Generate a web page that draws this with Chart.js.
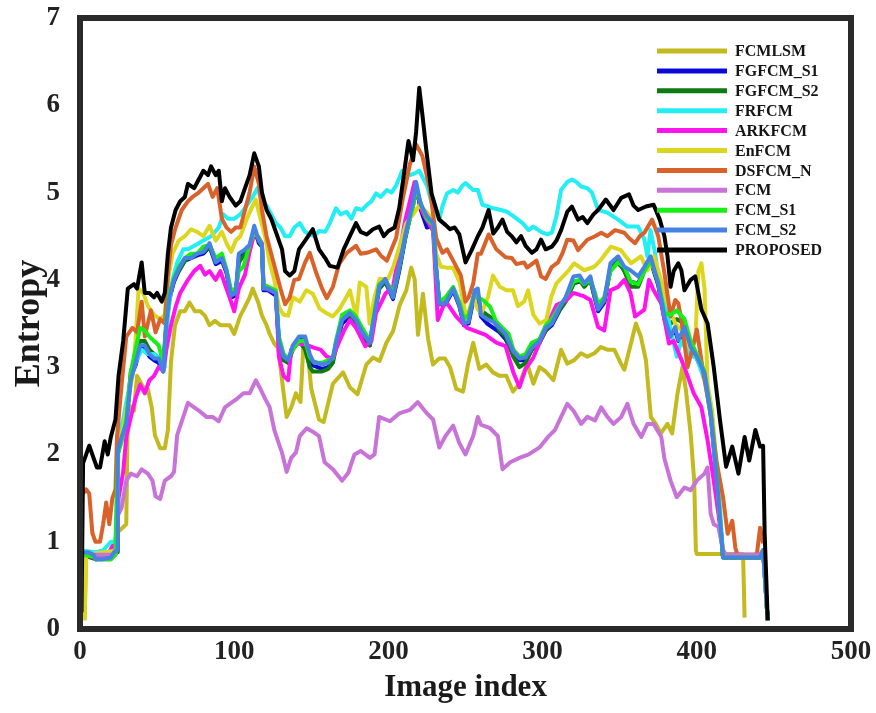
<!DOCTYPE html>
<html>
<head>
<meta charset="utf-8">
<script src="https://cdn.jsdelivr.net/npm/chart.js@4/dist/chart.umd.min.js"></script>
<style>
  html, body { margin: 0; padding: 0; background: #fff; }
  #wrap { width: 876px; height: 713px; position: relative; }
</style>
</head>
<body>
<div id="wrap"><canvas id="c"></canvas></div>
<script>
// Entropy per image index for each segmentation method: [index, entropy]
const FCMLSM = [[3,0.1],[4,0.85],[10,0.85],[20,0.85],[24,1.1],[27,1.15],[30,1.2],[31,2.5],[33,2.55],[35,2.5],[37,2.9],[41,2.77],[44,2.75],[46.5,2.54],[48.6,2.22],[52,2.07],[55,2.07],[57,2.28],[59,3.06],[61.6,3.48],[65,3.64],[68,3.64],[71,3.74],[74.5,3.64],[78,3.64],[81,3.59],[84,3.48],[87.5,3.53],[91,3.48],[94,3.48],[97,3.48],[100,3.38],[104,3.59],[107,3.69],[110,3.8],[112,3.9],[115.6,3.74],[118,3.59],[121,3.48],[123,3.38],[126,3.27],[128.5,3.22],[131.7,2.75],[134,2.43],[137,2.54],[140,2.7],[143,2.6],[145,3.3],[147.5,3.2],[150,2.75],[155,2.4],[158,2.37],[164,2.81],[170.6,2.94],[175,2.77],[180,2.69],[185.7,3.03],[190,3.11],[194.3,3.07],[198.7,3.28],[203,3.41],[207.3,3.71],[211.6,3.88],[214.8,4.14],[217,4.01],[219.2,3.37],[222.4,3.84],[225.7,3.33],[228.9,3.03],[233,3.1],[236.7,3.1],[240,3.0],[244,2.75],[248.4,2.72],[251.6,3.03],[255,3.28],[259,2.98],[263.5,3.03],[267.8,2.94],[272,2.9],[276.5,2.9],[280.8,2.72],[285,2.81],[290,3.04],[294,2.81],[298,3.0],[302,2.95],[307,2.85],[312,3.2],[316,3.04],[320.5,3.08],[325,3.16],[329,3.12],[333.6,3.16],[337.8,3.23],[342,3.2],[346.5,3.2],[350.8,3.04],[353,2.97],[357.3,3.27],[360.5,3.5],[363.7,3.35],[367,3.08],[370.2,2.43],[373.4,2.35],[376.7,2.24],[381,2.35],[384,2.24],[387.5,2.7],[390.7,3.0],[392.9,2.74],[396,2.24],[398.3,1.7],[399.4,0.9],[400,0.86],[430,0.86],[431,0.13]];

const FGFCM_S1 = [[0,0.2],[1,0.87],[9,0.85],[10,0.8],[20,0.82],[24,0.9],[24.5,2.02],[27,2.18],[30,2.38],[33,2.9],[36,3.02],[39,3.22],[42,3.22],[45,3.12],[48,3.08],[51,3.05],[54,2.95],[56,3.48],[58,3.78],[61,3.98],[64,4.1],[68,4.22],[72,4.25],[76,4.28],[80,4.3],[84,4.38],[88,4.18],[92,4.22],[95,4.08],[98,3.8],[101,3.82],[103,4.25],[107,4.32],[110,4.38],[113,4.58],[116,4.42],[118,4.38],[119,3.88],[122,3.88],[127,3.82],[129,3.28],[132,3.1],[135,3.05],[138,3.22],[142,3.32],[146,3.3],[149,3.08],[151,3.02],[157,2.98],[161,3.0],[164,3.08],[166,3.25],[170,3.5],[175,3.58],[179,3.5],[183,3.35],[188,3.25],[190,3.48],[194,3.9],[198,3.98],[203,3.78],[207,4.1],[211,4.48],[216,4.88],[218,5.08],[221,4.8],[225,4.6],[229,4.62],[231,4.12],[233,3.72],[237,3.72],[242,3.88],[246,3.7],[249,3.48],[252,3.5],[256,3.85],[258,3.85],[260,3.58],[264,3.5],[268,3.45],[272,3.4],[276,3.32],[281,3.15],[285,3.08],[289,3.08],[293,3.2],[298,3.28],[302,3.42],[306,3.48],[311,3.65],[315,3.78],[320,3.96],[324,3.98],[327,3.96],[331,4.0],[334,3.78],[336,3.64],[340,3.74],[344,4.15],[349,4.19],[353,4.12],[357,3.98],[362,3.96],[366,4.12],[370,4.22],[375,3.94],[379,3.55],[383,3.35],[386,3.42],[388,3.3],[392,3.42],[396,3.2],[400,3.1],[405,2.9],[409,2.45],[412,1.88],[414,1.5],[417,0.82],[441,0.82],[443,0.9],[446,0.1]];

const FGFCM_S2 = [[0,0.2],[1,0.85],[10,0.8],[20,0.8],[24,0.88],[24.5,2.0],[27,2.2],[30,2.4],[33,2.95],[36,3.1],[39,3.3],[42,3.3],[45,3.2],[48,3.15],[51,3.1],[54,3.0],[56,3.5],[58,3.8],[61,4.0],[64,4.1],[68,4.22],[72,4.28],[76,4.3],[80,4.32],[84,4.38],[88,4.22],[92,4.25],[95,4.1],[98,3.85],[101,3.85],[103,4.2],[107,4.3],[110,4.38],[113,4.55],[116,4.45],[118,4.38],[119,3.9],[122,3.9],[127,3.85],[129,3.28],[132,3.08],[135,3.05],[138,3.2],[142,3.3],[146,3.2],[149,3.0],[151,2.95],[157,2.95],[161,2.98],[164,3.05],[166,3.22],[170,3.55],[175,3.6],[179,3.52],[183,3.38],[188,3.25],[190,3.5],[194,3.9],[198,3.98],[203,3.8],[207,4.12],[211,4.5],[216,4.85],[218,5.05],[221,4.82],[225,4.68],[229,4.6],[231,4.1],[233,3.72],[237,3.75],[242,3.9],[246,3.72],[249,3.5],[252,3.55],[256,3.85],[258,3.82],[260,3.65],[264,3.6],[268,3.55],[272,3.42],[276,3.35],[281,3.12],[285,3.0],[289,3.05],[293,3.2],[298,3.28],[302,3.42],[306,3.5],[311,3.65],[315,3.75],[320,3.95],[324,4.0],[327,3.92],[331,4.0],[334,3.78],[336,3.68],[340,3.75],[344,4.12],[349,4.22],[353,4.1],[357,3.92],[362,3.92],[366,4.1],[370,4.22],[375,3.95],[379,3.6],[383,3.5],[387,3.55],[392,3.5],[396,3.25],[400,3.12],[405,2.92],[409,2.48],[412,1.92],[414,1.5],[417,0.82],[441,0.82],[443,0.9],[446,0.1]];

const FRFCM = [[0,0.2],[1,0.9],[10,0.88],[15,0.9],[20,1.0],[23,1.0],[25,2.2],[28,2.4],[30,2.6],[33,2.85],[36,3.05],[40,3.2],[44,3.15],[48,3.15],[52,3.1],[55,3.0],[57,3.6],[60,4.0],[63,4.2],[67,4.35],[70,4.35],[75,4.4],[80,4.45],[85,4.5],[90,4.6],[93,4.75],[96,4.7],[100,4.7],[104,4.75],[108,4.85],[112,4.95],[115,5.05],[118,4.9],[121,4.85],[124,4.75],[127,4.65],[130,4.6],[133,4.5],[136,4.5],[139,4.6],[142.5,4.65],[146,4.55],[149,4.52],[152,4.5],[155,4.56],[159,4.55],[162,4.65],[166,4.82],[169,4.75],[173,4.78],[176,4.7],[179,4.82],[183,4.8],[186,4.86],[189,4.9],[192,4.99],[195,4.95],[199,5.03],[202,5.0],[205,5.08],[209,5.25],[214,5.2],[217,5.22],[220,5.25],[225,5.08],[229,4.82],[233,4.69],[235,4.84],[238,4.99],[242,5.03],[245,5.0],[248,5.08],[250,5.11],[255,5.03],[258,5.03],[261,4.86],[265,4.84],[268,4.82],[273,4.8],[277,4.78],[281,4.73],[287,4.65],[291,4.57],[294,4.61],[299,4.55],[303,4.52],[306,4.54],[309,4.73],[312,5.03],[316,5.12],[319,5.15],[322,5.12],[325,5.07],[329,5.05],[332,5.0],[336,4.8],[342,4.77],[349,4.69],[355,4.61],[362,4.61],[366,4.46],[368,4.27],[370,4.57],[373,4.3],[376,3.9],[380,3.7],[383,3.43],[387,3.12],[390,3.3],[395,3.15],[400,3.1],[405,2.85],[409,2.45],[412,1.9],[415,1.4],[417,0.85],[441,0.85],[443,0.9]];

const ARKFCM = [[0,0.2],[1,0.85],[10,0.82],[18,0.85],[21,0.95],[24,0.95],[25,1.5],[28,1.8],[30,2.2],[33,2.43],[36,2.64],[39,2.8],[42,2.7],[45,2.85],[48,2.9],[51,3.0],[54,2.96],[56,3.2],[59,3.48],[62,3.69],[65,3.85],[70,4.0],[74,4.1],[78,4.16],[81,4.06],[84,4.1],[88,4.0],[91,4.1],[94,3.95],[97,3.8],[100,3.64],[103,3.9],[107,4.06],[110,4.32],[113,4.53],[116,4.48],[118,4.42],[119,3.95],[121,3.9],[127,3.85],[129,3.12],[132,2.9],[135,2.85],[137,3.2],[141,3.27],[146,3.26],[152,3.22],[156,3.2],[160,3.12],[164,3.1],[167,3.25],[171,3.41],[175,3.54],[179,3.45],[185,3.24],[189,3.3],[192,3.62],[198,3.84],[203,3.92],[207,4.31],[211,4.69],[217,5.12],[222,4.78],[229,4.56],[232,3.54],[237,3.76],[244,3.58],[251,3.45],[257,3.41],[263,3.37],[270,3.28],[276,3.24],[281,2.94],[285,2.77],[289,2.98],[294,3.11],[298,3.28],[302,3.45],[309,3.71],[315,3.76],[320,3.85],[327,3.81],[331,3.77],[336,3.46],[340,3.42],[344,3.88],[349,3.92],[353,4.0],[357,3.85],[360,3.58],[366,3.66],[369,4.0],[372,3.88],[377,3.73],[382,3.27],[385,3.3],[392,3.0],[398,2.7],[403,2.54],[407,2.16],[411,1.7],[414,1.32],[417,0.9],[419,0.85],[441,0.85],[443,0.9],[446,0.1]];

const EnFCM = [[3,0.1],[4,0.85],[24,0.9],[25,2.15],[28,2.3],[31,2.6],[34,2.9],[36,3.3],[38,3.9],[41,3.85],[44,3.7],[48,3.6],[52,3.55],[55,3.6],[57,4.0],[60,4.3],[64,4.45],[68,4.5],[72,4.58],[76,4.55],[80,4.5],[84,4.62],[88,4.45],[92,4.55],[95,4.42],[98,4.32],[101,4.45],[104,4.5],[108,4.69],[112,4.85],[114,4.92],[117,4.7],[120,4.5],[123,4.2],[126,4.0],[129,3.69],[132,3.6],[135,3.59],[138,3.8],[142.5,3.75],[146.8,3.88],[151,3.84],[155.4,3.67],[159.7,3.62],[164,3.58],[168.4,3.67],[172.7,3.8],[175,3.88],[179.2,3.58],[181.4,3.97],[185.7,3.92],[187.8,3.5],[191,3.8],[194.3,4.01],[199.7,4.01],[203,4.14],[207.3,4.39],[211.6,4.65],[216,4.75],[220,4.85],[224.6,4.78],[228.9,4.69],[231,4.3],[234,4.15],[237.6,4.14],[241.9,4.14],[246.2,3.97],[250.6,3.55],[254.9,3.8],[258,3.66],[260.3,3.62],[264.6,3.8],[267.8,4.05],[272.2,3.92],[276.5,3.88],[280.8,3.88],[284,3.7],[288,3.75],[290.6,3.88],[294,3.6],[298.1,3.5],[302.4,3.54],[305.7,3.81],[309,3.96],[313.3,4.04],[317,4.11],[320.5,4.19],[327,4.11],[333.6,4.15],[337.8,4.23],[344.3,4.38],[350.8,4.34],[357.3,4.19],[363.7,4.27],[368,4.11],[372.3,4.27],[376.7,4.0],[381,3.73],[386,3.5],[391,3.4],[396,3.2],[399,3.3],[401,4.1],[403,4.19],[405,3.9],[407,2.8],[410,2.5],[413,1.8],[416,1.0],[418,0.85],[441,0.85],[443,0.9],[446,0.1]];

const DSFCM_N = [[2,1.55],[4,1.6],[6,1.55],[8,1.1],[10,1.0],[13,1.0],[15,1.2],[17,1.45],[19,1.2],[21,1.5],[23,1.6],[24,2.2],[27,2.8],[30,3.35],[34,3.45],[37,3.4],[40,3.75],[42,3.35],[46,3.65],[49,3.4],[52,3.55],[55,3.5],[57,4.05],[59,4.4],[62,4.6],[66,4.8],[70,4.9],[73,4.95],[77,5.0],[80,5.05],[83,5.1],[86,4.95],[89,5.05],[92,4.7],[95,4.6],[98,4.55],[101,4.6],[104,4.6],[107,4.8],[110,5.0],[113,5.3],[116,5.1],[118,4.8],[121,4.5],[124,4.3],[127,4.1],[130,3.9],[133,3.72],[136,3.8],[139,4.0],[142,4.01],[146,4.2],[149,4.31],[153,4.09],[157,3.9],[160,3.79],[164,3.92],[168,4.18],[173,4.31],[179,4.39],[182,4.3],[186,4.31],[192,4.35],[195,4.28],[199,4.22],[202,4.35],[205,4.48],[209,4.9],[214,5.33],[218,5.55],[222,5.42],[227,5.03],[231,4.48],[235,4.31],[238,4.35],[242,4.22],[247,4.05],[250,3.75],[252,3.8],[255,3.96],[258,4.3],[260,4.3],[265,4.52],[270,4.35],[276,4.26],[280,4.25],[283,4.18],[288,4.2],[290,4.14],[296,4.22],[299,4.04],[302,4.01],[306,4.15],[310,4.2],[313,4.31],[316,4.46],[320,4.45],[323,4.34],[329,4.46],[334,4.5],[338,4.54],[342,4.5],[347,4.57],[353,4.54],[356,4.48],[360,4.42],[363,4.5],[366,4.54],[371,4.69],[375,4.5],[379,4.08],[383,3.58],[386,3.77],[388,3.73],[390,3.54],[394,3.0],[397,3.2],[400,3.43],[404,2.96],[409,2.47],[413,1.9],[417,1.51],[420,1.09],[423,1.24],[425,0.93],[427,0.82],[433,0.82],[439,0.86],[441,1.16],[443,0.98]];

const FCM = [[0,0.15],[1,0.85],[23,0.85],[24,1.28],[27,1.39],[30,1.7],[33,1.78],[37,1.75],[40,1.83],[44,1.78],[47,1.7],[49,1.52],[52,1.49],[55,1.7],[59,1.75],[61,1.8],[63,2.22],[66,2.38],[70,2.59],[74,2.54],[78,2.49],[82,2.43],[86,2.43],[90,2.38],[94,2.54],[98,2.59],[102,2.64],[106,2.7],[110,2.7],[114,2.85],[117,2.75],[120,2.64],[123,2.54],[126,2.28],[129,2.12],[131,2.02],[134,1.8],[137,1.96],[140,2.02],[142.5,2.21],[147,2.3],[151,2.26],[155,2.21],[158.6,1.91],[164,1.83],[170,1.7],[174,1.79],[178,2.0],[182,2.04],[188,1.96],[191,2.0],[194,2.43],[201,2.38],[207,2.47],[214,2.51],[219,2.6],[225,2.47],[229,2.4],[233,2.08],[237,2.21],[242,2.33],[246,2.13],[250,2.0],[255,2.21],[258,2.43],[260,2.34],[266,2.3],[271,2.21],[274,1.83],[279,1.91],[285,1.96],[291,2.0],[298,2.08],[304,2.21],[308,2.28],[312,2.43],[316,2.58],[320,2.5],[325,2.35],[329,2.43],[334,2.39],[338,2.54],[342,2.43],[346,2.35],[351,2.43],[355,2.58],[359,2.35],[364,2.2],[368,2.35],[372,2.35],[377,2.2],[379,1.95],[383,1.7],[387,1.51],[392,1.62],[396,1.59],[400,1.7],[405,1.78],[407,1.85],[409,1.32],[411,1.2],[414,1.17],[417,0.9],[419,0.85],[441,0.85],[443,0.9],[446,0.1]];

const FCM_S1 = [[0,0.2],[1,0.85],[9,0.83],[10,0.8],[20,0.8],[23,0.85],[24.5,2.0],[27,2.15],[30,2.4],[33,2.95],[36,3.2],[39,3.45],[42,3.42],[45,3.35],[48,3.3],[51,3.25],[54,3.05],[56,3.55],[58,3.85],[61,4.02],[64,4.15],[68,4.25],[72,4.3],[76,4.3],[80,4.38],[84,4.4],[88,4.25],[92,4.3],[95,4.12],[98,3.88],[101,3.9],[103,4.1],[106,4.15],[110,4.4],[113,4.55],[116,4.48],[118,4.4],[119,3.95],[122,3.92],[127,3.88],[129,3.35],[132,3.15],[135,3.1],[138,3.2],[142,3.3],[146,3.3],[149,3.12],[152,3.05],[157,3.05],[161,3.08],[164,3.1],[166,3.3],[170,3.6],[175,3.65],[179,3.58],[183,3.45],[188,3.3],[190,3.52],[194,3.95],[198,4.0],[203,3.85],[207,4.15],[211,4.5],[216,4.85],[218,5.05],[221,4.88],[225,4.7],[229,4.62],[231,4.1],[233,3.75],[237,3.8],[242,3.92],[246,3.75],[249,3.55],[252,3.6],[256,3.85],[258,3.8],[262,3.76],[266,3.69],[270,3.52],[274,3.45],[278,3.38],[281,3.2],[285,3.12],[289,3.15],[293,3.28],[298,3.32],[302,3.48],[306,3.55],[311,3.7],[315,3.8],[320,3.98],[324,4.0],[327,3.95],[331,4.0],[334,3.85],[336,3.72],[340,3.8],[344,4.1],[349,4.2],[353,4.15],[357,3.98],[362,3.95],[366,4.1],[370,4.22],[375,3.98],[379,3.62],[383,3.6],[387,3.65],[392,3.55],[396,3.3],[400,3.15],[405,2.95],[409,2.5],[412,1.95],[414,1.5],[417,0.82],[441,0.82],[443,0.9],[446,0.1]];

const FCM_S2 = [[0,0.2],[1,0.87],[5,0.88],[9,0.85],[10,0.8],[15,0.8],[20,0.82],[22,0.88],[24,0.9],[24.5,2.05],[27,2.2],[30,2.35],[33,2.85],[36,3.05],[39,3.25],[42,3.25],[45,3.15],[48,3.1],[51,3.1],[54,2.95],[56,3.5],[58,3.8],[61,4.0],[64,4.12],[68,4.25],[72,4.25],[76,4.3],[80,4.32],[84,4.42],[88,4.2],[92,4.25],[95,4.1],[98,3.82],[101,3.85],[103,4.3],[107,4.35],[110,4.4],[113,4.62],[116,4.45],[118,4.4],[119,3.9],[122,3.9],[127,3.85],[129,3.3],[132,3.12],[135,3.08],[138,3.25],[142,3.35],[146,3.35],[149,3.15],[151,3.07],[157,3.03],[161,3.05],[164,3.11],[166,3.28],[170,3.54],[175,3.62],[179,3.54],[183,3.4],[188,3.28],[190,3.5],[194,3.92],[198,4.01],[203,3.8],[207,4.14],[211,4.52],[216,4.9],[218,5.12],[221,4.86],[225,4.73],[229,4.65],[231,4.14],[233,3.73],[237,3.73],[242,3.9],[246,3.71],[249,3.5],[252,3.52],[256,3.88],[258,3.9],[260,3.6],[264,3.55],[268,3.52],[272,3.45],[276,3.38],[281,3.18],[285,3.1],[289,3.11],[293,3.22],[298,3.3],[302,3.45],[306,3.5],[311,3.68],[315,3.8],[320,4.04],[324,4.05],[327,3.96],[331,4.04],[334,3.8],[336,3.66],[340,3.77],[344,4.19],[349,4.27],[353,4.15],[357,4.11],[362,4.04],[366,4.15],[370,4.27],[375,3.96],[379,3.58],[383,3.35],[386,3.46],[388,3.31],[392,3.46],[396,3.23],[400,3.12],[405,2.93],[409,2.47],[412,1.9],[414,1.51],[417,0.82],[441,0.82],[443,0.9],[446,0.1]];

const PROPOSED = [[0,0.8],[1,0.2],[2,1.9],[3,1.95],[6,2.1],[9,1.95],[11,1.85],[13,1.85],[16,2.15],[18,2.0],[20,2.2],[23,2.4],[25,2.9],[28,3.3],[31,3.9],[35,3.95],[37,3.9],[40,4.2],[42,3.85],[45,3.85],[48,3.8],[50,3.85],[53,3.75],[55,3.85],[57,4.3],[59,4.6],[62,4.8],[65,4.9],[68,4.95],[70,5.1],[74,5.05],[77,5.15],[80,5.25],[83,5.2],[85,5.3],[88,5.2],[90,5.25],[92,4.9],[94,5.05],[97,4.95],[101,4.85],[104,4.9],[107,5.05],[110,5.2],[113,5.45],[116,5.3],[118,5.0],[121,4.8],[124,4.7],[127,4.55],[131,4.35],[133,4.1],[136,4.05],[139,4.1],[142,4.35],[146,4.45],[151,4.58],[155,4.35],[159,4.25],[162,4.16],[167,4.14],[171,4.35],[175,4.5],[179,4.65],[182,4.55],[186,4.52],[190,4.58],[194,4.61],[197,4.5],[200,4.56],[204,4.6],[207,4.82],[210,5.2],[213,5.59],[216,5.37],[218,5.7],[220,6.2],[222,5.9],[224.5,5.5],[228,4.99],[233,4.69],[237,4.63],[240,4.58],[243,4.6],[246,4.52],[250,4.2],[254,4.34],[258,4.5],[261,4.6],[265,4.8],[268,4.53],[271,4.6],[274,4.69],[277,4.55],[280,4.5],[283,4.43],[286,4.5],[289,4.39],[293,4.31],[296,4.35],[299,4.46],[302,4.35],[306,4.38],[309,4.45],[312,4.57],[316,4.78],[319,4.84],[323,4.69],[326,4.72],[329,4.65],[333,4.75],[336,4.8],[341,4.92],[346,4.8],[351,4.94],[356,4.98],[359,4.85],[362,4.8],[367,4.84],[372,4.86],[376,4.69],[379,4.5],[381,4.27],[383,3.92],[385,4.1],[388,4.19],[390,4.11],[392,3.88],[396,4.0],[399,4.04],[403,3.66],[407,3.5],[411,3.0],[415,2.4],[419,1.86],[423,2.09],[427,1.78],[431,2.2],[434,1.93],[438,2.28],[441,2.09],[443,2.1],[444,1.1],[446,0.1]];

const seriesNames = ['FCMLSM','FGFCM_S1','FGFCM_S2','FRFCM','ARKFCM','EnFCM','DSFCM_N','FCM','FCM_S1','FCM_S2','PROPOSED'];
const seriesData  = [FCMLSM, FGFCM_S1, FGFCM_S2, FRFCM, ARKFCM, EnFCM, DSFCM_N, FCM, FCM_S1, FCM_S2, PROPOSED];
const seriesColors = ['#C2BA1E','#0A0AD8','#0E7A12','#22EEF4','#FF14EE','#DCD61E','#D9622A','#C873D8','#16EE16','#4682E4','#000000'];

const xTicks = [0, 100, 200, 300, 400, 500];
const yTicks = [0, 1, 2, 3, 4, 5, 6, 7];

const SERIF = "'Liberation Serif', 'Times New Roman', serif";

// Legend stacked in the upper right corner of the plot, drawn over the lines
const cornerLegend = {
  id: 'cornerLegend',
  afterDatasetsDraw(chart) {
    const ctx = chart.ctx;
    ctx.save();
    ctx.font = 'bold 16px ' + SERIF;
    ctx.textBaseline = 'middle';
    ctx.textAlign = 'left';
    chart.data.datasets.forEach((ds, i) => {
      const y = 51 + i * 19.9;
      ctx.strokeStyle = ds.borderColor;
      ctx.lineWidth = 5;
      ctx.lineCap = 'butt';
      ctx.beginPath();
      ctx.moveTo(657, y);
      ctx.lineTo(727, y);
      ctx.stroke();
      ctx.fillStyle = '#151515';
      ctx.fillText(ds.label, 735, y + 1);
    });
    ctx.restore();
  }
};

// Thick box around the plotting area
const plotFrame = {
  id: 'plotFrame',
  afterDraw(chart) {
    const a = chart.chartArea;
    const ctx = chart.ctx;
    ctx.save();
    ctx.strokeStyle = '#2a2a2a';
    ctx.lineWidth = 6;
    ctx.strokeRect(a.left, a.top, a.right - a.left, a.bottom - a.top);
    ctx.restore();
  }
};

const datasets = seriesNames.map((name, i) => ({
  label: name,
  data: seriesData[i].map(p => ({ x: p[0], y: p[1] })),
  borderColor: seriesColors[i],
  backgroundColor: seriesColors[i],
  borderWidth: 4,
  pointRadius: 0,
  tension: 0,
  fill: false,
  borderJoinStyle: 'round',
  order: seriesNames.length - i
}));

new Chart(document.getElementById('c'), {
  type: 'line',
  data: { datasets },
  options: {
    responsive: true,
    maintainAspectRatio: false,
    animation: false,
    layout: { padding: { top: 18, right: 25, left: 0, bottom: 0 } },
    plugins: {
      legend: { display: false },
      tooltip: { enabled: false }
    },
    scales: {
      x: {
        type: 'linear',
        min: 0, max: 500,
        afterBuildTicks(scale) { scale.ticks = xTicks.map(v => ({ value: v })); },
        afterFit(scale) {
          scale.height = 84;
          scale.paddingLeft = 0;
          scale.paddingRight = 0;
        },
        grid: { display: false, drawTicks: false },
        border: { display: false },
        ticks: {
          color: '#222',
          padding: 7,
          maxRotation: 0,
          font: { family: SERIF, size: 27, weight: 'bold' }
        },
        title: {
          display: true,
          text: 'Image index',
          color: '#1a1a1a',
          padding: { top: 4, bottom: 6 },
          font: { family: SERIF, size: 31, weight: 'bold' }
        }
      },
      y: {
        type: 'linear',
        min: 0, max: 7,
        afterBuildTicks(scale) { scale.ticks = yTicks.map(v => ({ value: v })); },
        afterFit(scale) {
          scale.width = 80;
          scale.paddingTop = 0;
          scale.paddingBottom = 0;
        },
        grid: { display: false, drawTicks: false },
        border: { display: false },
        ticks: {
          color: '#222',
          padding: 20,
          font: { family: SERIF, size: 27, weight: 'bold' }
        },
        title: {
          display: true,
          text: 'Entropy',
          color: '#1a1a1a',
          padding: { top: 8, bottom: 0 },
          font: { family: SERIF, size: 36, weight: 'bold' }
        }
      }
    }
  },
  plugins: [cornerLegend, plotFrame]
});
</script>
</body>
</html>
